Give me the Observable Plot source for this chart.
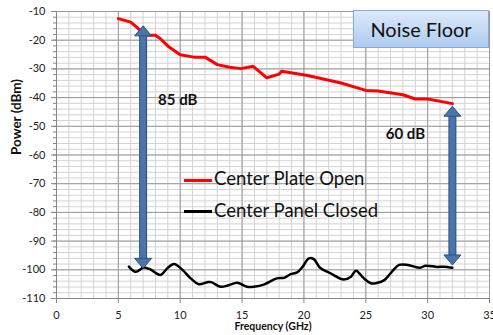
<!DOCTYPE html>
<html><head><meta charset="utf-8">
<script src="https://cdn.jsdelivr.net/npm/d3@7"></script>
<script src="https://cdn.jsdelivr.net/npm/@observablehq/plot@0.6"></script>
<style>
html,body{margin:0;padding:0;background:#fff;}
#wrap{position:relative;width:493px;height:335px;font-family:Lato,"Liberation Sans",sans-serif;}
.ov{position:absolute;white-space:nowrap;}
#nf{left:353px;top:10px;width:134px;height:36px;border:1px solid #86a9d8;background:linear-gradient(#dce9fa,#aecbf0);font-size:20px;line-height:36px;text-align:center;color:#111;}
.lg{font-size:18.5px;color:#111;}
.sw{position:absolute;height:3px;}
</style>
</head><body>
<div id="wrap"></div>
<script>
// Data
const redFreq = [5.0, 6.0, 6.5, 7.2, 8.0, 8.4, 9.1, 10.0, 11.1, 12.0, 13.0, 14.0, 14.9, 15.9, 17.0, 18.0, 18.2, 20.3, 23.0, 25.0, 26.0, 28.0, 29.0, 30.0, 32.0];
const redPower = [-12.5, -13.7, -15.5, -18.3, -18.3, -19.5, -22.4, -25.1, -25.9, -25.9, -28.5, -29.4, -29.9, -29.1, -33.1, -31.8, -30.8, -32.3, -34.9, -37.5, -37.7, -39.0, -40.5, -40.5, -42.1];
const blackFreq = [5.85, 6.4, 7.05, 7.6, 8.4, 8.95, 9.5, 10.2, 10.85, 11.5, 12.2, 12.5, 13.25, 13.9, 14.6, 15.4, 15.95, 16.8, 17.8, 18.4, 18.9, 19.45, 19.9, 20.4, 20.8, 21.3, 22.15, 23.2, 23.8, 24.2, 24.85, 25.4, 25.8, 26.5, 27.1, 27.7, 28.4, 29.4, 29.8, 30.8, 31.3, 32.0];
const blackPower = [-98.9, -100.7, -99.2, -99.9, -101.8, -99.5, -98.0, -100.1, -103.0, -105.0, -104.3, -104.3, -105.9, -105.4, -104.5, -105.9, -105.9, -105.1, -103.0, -102.8, -101.6, -100.9, -98.9, -96.0, -96.3, -99.3, -101.2, -103.4, -102.4, -100.3, -103.0, -104.7, -104.7, -103.6, -100.7, -98.3, -98.3, -99.3, -98.6, -99.0, -98.9, -99.3];
const seriesNames = ["Center Plate Open", "Center Panel Closed"];
const xTicks = [0, 5, 10, 15, 20, 25, 30, 35];
const yTicks = [-110, -100, -90, -80, -70, -60, -50, -40, -30, -20, -10];
const arrowFreq = [7, 32];
const arrowTop = [-15, -43];
const arrowBottom = [-99.5, -98.3];
const arrowLabels = ["85 dB", "60 dB"];
const labelFreq = [9.8, 28.2];
const labelPower = [-41, -52.8];

const red = redFreq.map((f, i) => ({f, p: redPower[i]}));
const black = blackFreq.map((f, i) => ({f, p: blackPower[i]}));
const minorX = d3.range(0, 36, 1);
const minorY = d3.range(-110, -9, 2);
const idx = arrowFreq.map((_, i) => i);

const headUp = {draw(c) { c.moveTo(0, 0); c.lineTo(8.5, 10); c.lineTo(-8.5, 10); c.closePath(); }};
const headDown = {draw(c) { c.moveTo(0, 0); c.lineTo(8.5, -10); c.lineTo(-8.5, -10); c.closePath(); }};
const arrowDark = "#2f5283", arrowFill = "#4a74aa";

const chart = Plot.plot({
  width: 493, height: 335,
  marginLeft: 56, marginRight: 4, marginTop: 11, marginBottom: 37,
  style: {fontFamily: "Lato, 'Liberation Sans', sans-serif", fontSize: "11px", color: "#222", background: "#fff"},
  x: {domain: [0, 35], label: null},
  y: {domain: [-110, -10], label: null},
  marks: [
    Plot.gridX(minorX, {stroke: "#d3d3d3", strokeOpacity: 1}),
    Plot.gridY(minorY, {stroke: "#d3d3d3", strokeOpacity: 1}),
    Plot.gridX(xTicks, {stroke: "#9a9a9a", strokeOpacity: 1}),
    Plot.gridY(yTicks, {stroke: "#9a9a9a", strokeOpacity: 1}),
    Plot.ruleX([0], {stroke: "#868686"}),
    Plot.ruleY([-110], {stroke: "#868686"}),
    Plot.axisY(minorY, {tickSize: 3, tickFormat: () => "", stroke: "#868686", label: null}),
    Plot.axisY(yTicks, {tickSize: 5, tickPadding: 6, tickFormat: d => String(d), stroke: "#868686", label: null}),
    Plot.axisX(xTicks, {tickSize: 5, tickPadding: 8, tickFormat: d => String(d), stroke: "#868686", label: null}),
    Plot.line(red, {x: "f", y: "p", stroke: "#ff0000", strokeWidth: 3}),
    Plot.line(black, {x: "f", y: "p", stroke: "#000", strokeWidth: 2.5, curve: "catmull-rom"}),
    Plot.ruleX(idx, {x: i => arrowFreq[i], y1: i => arrowTop[i], y2: i => arrowBottom[i], stroke: arrowDark, strokeWidth: 8, insetTop: 8, insetBottom: 8}),
    Plot.ruleX(idx, {x: i => arrowFreq[i], y1: i => arrowTop[i], y2: i => arrowBottom[i], stroke: arrowFill, strokeWidth: 6, insetTop: 7, insetBottom: 7}),
    Plot.dot(idx, {x: i => arrowFreq[i], y: i => arrowTop[i], symbol: headUp, fill: arrowFill, stroke: arrowDark, strokeWidth: 1}),
    Plot.dot(idx, {x: i => arrowFreq[i], y: i => arrowBottom[i], symbol: headDown, fill: arrowFill, stroke: arrowDark, strokeWidth: 1}),
    Plot.text(idx, {x: i => labelFreq[i], y: i => labelPower[i], text: i => arrowLabels[i], fontWeight: "bold", fontSize: 15, fill: "#111"}),
    Plot.text(["Power (dBm)"], {frameAnchor: "left", rotate: -90, dx: -40, fontWeight: "bold", fontSize: 13.5, fill: "#111"}),
    Plot.text(["Frequency (GHz)"], {frameAnchor: "bottom", dy: 31.5, fontWeight: "bold", fontSize: 10.5, fill: "#111"})
  ]
});
const wrap = document.getElementById("wrap");
wrap.appendChild(chart);

function ov(cls, css, text) {
  const d = document.createElement("div");
  d.className = cls; d.style.cssText = css; if (text) d.textContent = text;
  wrap.appendChild(d); return d;
}
ov("ov", "", "").id = "nf";
document.getElementById("nf").textContent = "Noise Floor";
ov("sw", "left:184px;top:178.5px;width:28px;background:#ff0000;");
ov("ov lg", "left:214px;top:167px;", seriesNames[0]);
ov("sw", "left:184px;top:210px;width:28px;height:2.5px;background:#000;");
ov("ov lg", "left:214px;top:199px;", seriesNames[1]);
</script>
</body></html>
